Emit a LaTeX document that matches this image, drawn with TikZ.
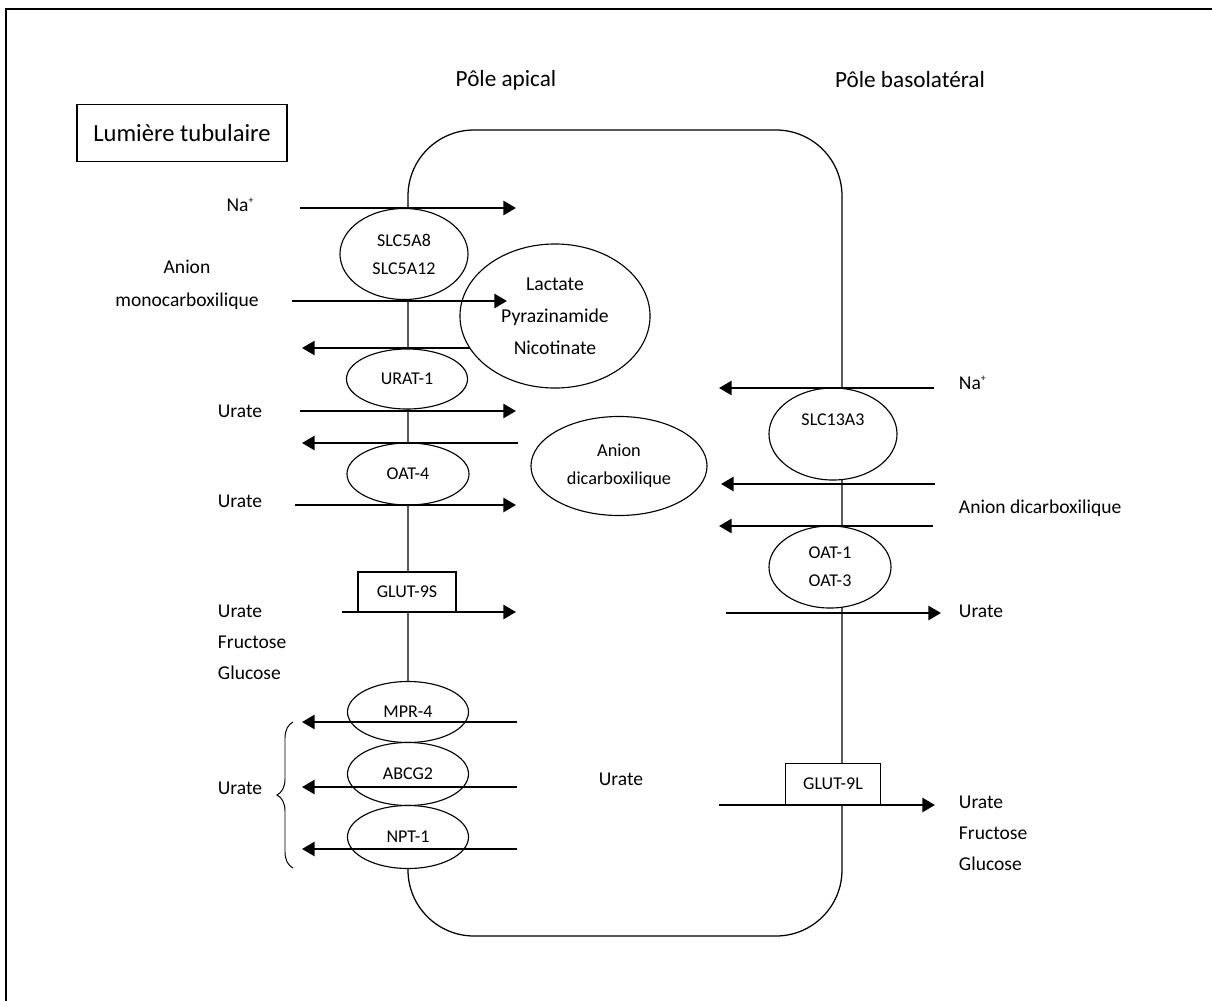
\documentclass[tikz,border=0pt]{standalone}
\usepackage{fontspec}
\setmainfont{Carlito}
\usetikzlibrary{shapes.geometric,arrows.meta,decorations.pathreplacing}

\begin{document}
\begin{tikzpicture}[x=0.025cm,y=-0.025cm,
	transporter/.style={ellipse,draw,fill=white,line width=0.8pt,inner sep=0pt,align=center,font=\fontsize{12.8}{19.9}\selectfont},
	carrier/.style={rectangle,draw,fill=white,line width=0.8pt,inner sep=0pt,font=\fontsize{12.8}{19.9}\selectfont},
	substrate/.style={ellipse,draw,fill=white,line width=0.8pt,inner sep=0pt,align=center},
	flux/.style={line width=1.8pt,-{Triangle[length=9pt,width=10pt]}},
	label_text/.style={font=\fontsize{13.9}{22}\selectfont,align=center},
	membrane/.style={line width=0.9pt}]
		
		\useasboundingbox (0,0) rectangle (1212,1001);
		\draw[line width=1.3pt] (6,1001) -- (6,9) -- (1212,9);
		
		\node[font=\fontsize{16.5}{20}\selectfont] (apical) at (506,80) {Pôle apical};
		\node[font=\fontsize{16.5}{20}\selectfont] (baso) at (910,80) {Pôle basolatéral};
		\node[draw,line width=0.9pt,minimum width=5.25cm,minimum height=1.425cm,font=\fontsize{17.5}{20}\selectfont] (lumiere) at (182,133) {Lumière tubulaire};
		
		\draw[membrane,rounded corners=1.65cm] (408,130) rectangle (842,936);
		
		% pole apical
		\node[transporter,minimum width=3.2cm,minimum height=2.275cm] (slc5a) at (404,254) {SLC5A8\\SLC5A12};
		\node[substrate,minimum width=4.75cm,minimum height=3.6cm,font=\fontsize{14}{22.7}\selectfont] (lactate) at (555,316) {Lactate\\Pyrazinamide\\Nicotinate};
		\node[transporter,minimum width=3.025cm,minimum height=1.5cm] (urat1) at (407,379) {URAT-1};
		\node[transporter,minimum width=3.05cm,minimum height=1.55cm] (oat4) at (408,474) {OAT-4};
		\node[substrate,minimum width=4.4cm,minimum height=2.475cm,font=\fontsize{13}{20}\selectfont] (dicarb) at (619,466) {Anion\\dicarboxilique};
		\node[carrier,minimum width=2.45cm,minimum height=1cm] (glut9s) at (407,592) {GLUT-9S};
		\node[transporter,minimum width=3.025cm,minimum height=1.525cm] (mpr4) at (408,712) {MPR-4};
		\node[transporter,minimum width=3.025cm,minimum height=1.575cm] (abcg2) at (408,774) {ABCG2};
		\node[transporter,minimum width=3.025cm,minimum height=1.575cm] (npt1) at (408,837) {NPT-1};
		
		\node[label_text] (na_ap) at (240,205) {Na\raisebox{0.8ex}{\fontsize{7}{7}\selectfont+}};
		\node[label_text,font=\fontsize{13.9}{23.4}\selectfont] (mono) at (187,285) {Anion\\monocarboxilique};
		\node[label_text] (urate_a) at (240,411) {Urate};
		\node[label_text] (urate_b) at (240,501) {Urate};
		\node[label_text,align=left,anchor=west,font=\fontsize{13.9}{22}\selectfont] (sugar_ap) at (213,642) {Urate\\Fructose\\Glucose};
		\node[label_text] (urate_c) at (240,788) {Urate};
		\node[label_text] (urate_mid) at (621,779) {Urate};
		
		\coordinate (brace_b) at (293,868);
		\coordinate (brace_t) at (293,722);
		\draw[line width=0.7pt,decorate,decoration={brace,amplitude=0.4cm}] (brace_b) -- (brace_t);
		
		% pole basolateral
		\node[transporter,minimum width=3.2cm,minimum height=2.3cm] (slc13) at (833,434) {SLC13A3\\\mbox{}};
		\node[transporter,minimum width=3.05cm,minimum height=2.05cm] (oat13) at (830,567) {OAT-1\\OAT-3};
		\node[carrier,minimum width=2.375cm,minimum height=1.025cm] (glut9l) at (833,784) {GLUT-9L};
		
		\node[label_text,anchor=west] (na_bl) at (954,383) {Na\raisebox{0.8ex}{\fontsize{7}{7}\selectfont+}};
		\node[label_text,anchor=west] (dicarb_bl) at (954,508) {Anion dicarboxilique};
		\node[label_text,anchor=west] (urate_bl) at (954,611) {Urate};
		\node[label_text,align=left,anchor=west,font=\fontsize{13.9}{22}\selectfont] (sugar_bl) at (954,833) {Urate\\Fructose\\Glucose};
		
		% flux apical
		\coordinate (f1s) at (300,208); \coordinate (f1e) at (516,208);
		\coordinate (f2s) at (292,301); \coordinate (f2e) at (507,301);
		\coordinate (f3s) at (470,348); \coordinate (f3e) at (302,348);
		\coordinate (f4s) at (300,411); \coordinate (f4e) at (516,411);
		\coordinate (f5s) at (518,443); \coordinate (f5e) at (302,443);
		\coordinate (f6s) at (295,505); \coordinate (f6e) at (516,505);
		\coordinate (f7s) at (342,612); \coordinate (f7e) at (516,612);
		\coordinate (f8s) at (517,722); \coordinate (f8e) at (302,722);
		\coordinate (f9s) at (517,787); \coordinate (f9e) at (302,787);
		\coordinate (f10s) at (517,849); \coordinate (f10e) at (302,849);
		% flux basolateral
		\coordinate (f11s) at (934,388); \coordinate (f11e) at (719,388);
		\coordinate (f12s) at (935,484); \coordinate (f12e) at (721,484);
		\coordinate (f13s) at (933,526); \coordinate (f13e) at (719,526);
		\coordinate (f14s) at (726,613); \coordinate (f14e) at (941,613);
		\coordinate (f15s) at (719,805); \coordinate (f15e) at (935,805);
		
		\draw[flux] (f1s) -- (f1e);
		\draw[flux] (f2s) -- (f2e);
		\draw[flux] (f3s) -- (f3e);
		\draw[flux] (f4s) -- (f4e);
		\draw[flux] (f5s) -- (f5e);
		\draw[flux] (f6s) -- (f6e);
		\draw[flux] (f7s) -- (f7e);
		\draw[flux] (f8s) -- (f8e);
		\draw[flux] (f9s) -- (f9e);
		\draw[flux] (f10s) -- (f10e);
		\draw[flux] (f11s) -- (f11e);
		\draw[flux] (f12s) -- (f12e);
		\draw[flux] (f13s) -- (f13e);
		\draw[flux] (f14s) -- (f14e);
		\draw[flux] (f15s) -- (f15e);
		\end{tikzpicture}
\end{document}
